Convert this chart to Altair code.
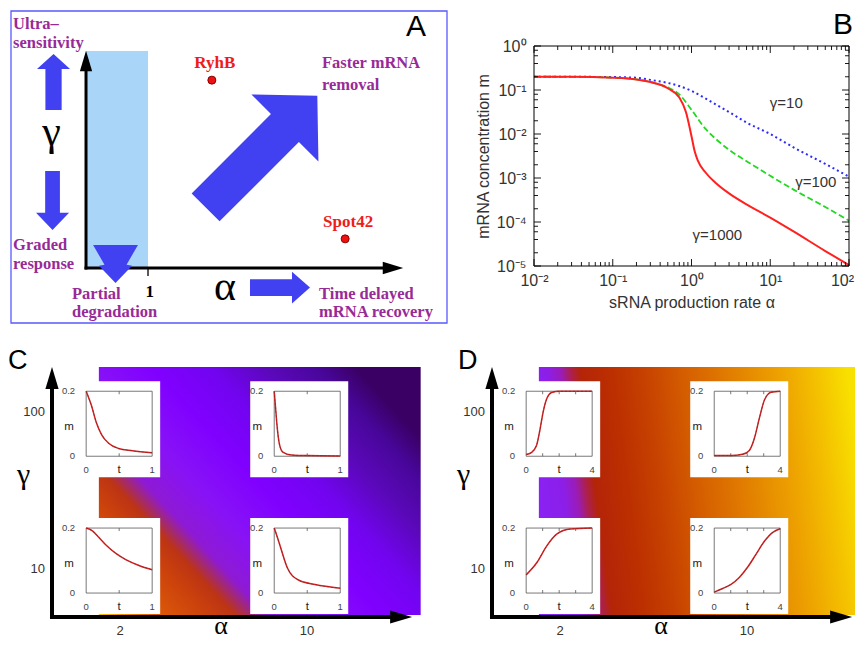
import math
import altair as alt
import pandas as pd

SANS = "Liberation Sans"
SERIF = "Liberation Serif"

# ======================= DATA =======================
# Panel A : schematic positions of the two sRNAs in the (alpha, gamma) plane
srna_names = ["RyhB", "Spot42"]
srna_alpha = [2.03, 4.18]
srna_gamma = [3.03, 0.47]

# Panel B : steady-state mRNA concentration vs sRNA production rate
alpha_g10 = [0.01, 0.03, 0.1, 0.2, 0.3, 0.5, 0.7, 1.0, 1.5, 2, 3, 5, 10, 20, 50, 100]
m_g10 = [0.2, 0.1995, 0.1968, 0.1905, 0.1698, 0.1445, 0.123, 0.0955, 0.0646, 0.0479,
         0.0316, 0.0182, 0.01, 0.0049, 0.00209, 0.00107]
alpha_g100 = [0.01, 0.03, 0.1, 0.2, 0.3, 0.5, 0.7, 1.0, 1.5, 2, 3, 5, 7, 10, 20, 50, 100]
m_g100 = [0.2, 0.1995, 0.1905, 0.1738, 0.1514, 0.1148, 0.0794, 0.0355, 0.0132, 0.00794,
          0.00437, 0.0024, 0.00166, 0.00112, 0.000537, 0.000219, 0.000107]
alpha_g1000 = [0.01, 0.03, 0.1, 0.2, 0.3, 0.5, 0.7, 0.85, 1.0, 1.1, 1.2, 1.5, 2, 3, 5, 10, 20, 50, 100]
m_g1000 = [0.2, 0.1995, 0.1905, 0.1738, 0.1514, 0.1096, 0.0676, 0.0316, 0.00891, 0.00398,
           0.00251, 0.00135, 0.000794, 0.000447, 0.000251, 0.000126, 6.03e-5, 2.19e-5, 1.05e-5]
curve_labels = ["γ=10", "γ=100", "γ=1000"]
curve_label_alpha = [16, 37.9, 2.13]
curve_label_m = [0.0502, 8.1e-4, 5.0e-5]

# Panels C, D : inset time courses m(t)
c_tl_t = [0, 0.08, 0.155, 0.235, 0.34, 0.49, 0.7, 1.0]
c_tl_m = [0.2, 0.156, 0.103, 0.066, 0.04, 0.024, 0.017, 0.0105]
c_tr_t = [0, 0.02, 0.04, 0.077, 0.13, 0.26, 0.5, 1.0]
c_tr_m = [0.2, 0.15, 0.1, 0.039, 0.013, 0.004, 0.002, 0.001]
c_bl_t = [0, 0.09, 0.19, 0.3, 0.45, 0.6, 0.8, 1.0]
c_bl_m = [0.2, 0.192, 0.172, 0.148, 0.122, 0.103, 0.085, 0.072]
c_br_t = [0, 0.05, 0.1, 0.2, 0.36, 0.62, 1.0]
c_br_m = [0.2, 0.17, 0.138, 0.077, 0.041, 0.026, 0.015]

d_tl_t = [0, 0.31, 0.62, 0.83, 1.04, 1.24, 1.55, 2.0, 4.0]
d_tl_m = [0.005, 0.011, 0.032, 0.08, 0.139, 0.176, 0.196, 0.2, 0.2]
d_tr_t = [0, 1.0, 1.72, 2.13, 2.44, 2.74, 3.05, 3.45, 4.0]
d_tr_m = [0.002, 0.002, 0.006, 0.018, 0.056, 0.118, 0.174, 0.197, 0.2]
d_bl_t = [0, 0.65, 1.26, 1.87, 2.68, 4.0]
d_bl_m = [0.056, 0.094, 0.146, 0.182, 0.197, 0.2]
d_br_t = [0, 0.51, 1.02, 1.52, 2.03, 2.54, 3.05, 3.55, 4.0]
d_br_m = [0.003, 0.014, 0.027, 0.048, 0.08, 0.12, 0.16, 0.187, 0.198]

alpha_ticks = [2, 10]
gamma_ticks = [10, 100]

# ======================= PANEL A =======================
A_W, A_VIEW_H, A_H, A_BOX_W = 523, 309, 312, 436
su = alt.Scale(domain=[-1.21, 5.823], range=[0, A_BOX_W], nice=False, zero=False)
sv = alt.Scale(domain=[-0.887, 4.145], range=[A_H, 0], nice=False, zero=False)


def AX(f):
    return alt.X(f, type="quantitative", scale=su, axis=None)


def AY(f):
    return alt.Y(f, type="quantitative", scale=sv, axis=None)


PURPLE = "#982a98"
BLUE = "#4141f2"
TRI = "M0,-1 L0.6,1 L-0.6,1 Z"

a_box = alt.Chart(pd.DataFrame({"u": [-1.21], "u2": [5.823], "v": [-0.887], "v2": [4.145]})).mark_rect(
    filled=False, stroke="#5a5aff", strokeWidth=1.3).encode(x=AX("u"), x2="u2", y=AY("v"), y2="v2")
a_shade = alt.Chart(pd.DataFrame({"u": [0.0], "u2": [1.0], "v": [0.0], "v2": [3.5]})).mark_rect(
    color="#a8d5f8").encode(x=AX("u"), x2="u2", y=AY("v"), y2="v2")
a_axes = alt.Chart(pd.DataFrame({"u": [0, 0], "u2": [4.952, 0], "v": [0, 0], "v2": [0, 3.339]})).mark_rule(
    color="black", strokeWidth=3, strokeCap="square").encode(x=AX("u"), x2="u2", y=AY("v"), y2="v2")
a_tick = alt.Chart(pd.DataFrame({"u": [1.0], "v": [0.0], "v2": [-0.13]})).mark_rule(
    color="black", strokeWidth=1.3).encode(x=AX("u"), y=AY("v"), y2="v2")
a_heads = alt.Chart(pd.DataFrame({"u": [4.952, 0.0], "v": [0.0, 3.339], "ang": [90, 0]})).mark_point(
    shape=TRI, size=420, filled=True, color="black", opacity=1, strokeWidth=0).encode(
    x=AX("u"), y=AY("v"), angle=alt.Angle("ang:Q", scale=None))

P_UP1 = "M0,-1 L0.59,-0.46 L0.29,-0.46 L0.29,1 L-0.29,1 L-0.29,-0.46 L-0.59,-0.46 Z"
P_UP2 = "M0,-1 L0.56,-0.42 L0.25,-0.42 L0.25,1 L-0.25,1 L-0.25,-0.42 L-0.56,-0.42 Z"
P_PART = "M-1.18,-1 L1.18,-1 L0.58,0.04 L0.87,0.1 L0,1 L-0.87,0.1 L-0.58,0.04 Z"
P_BIG = "M0,-1 L0.6,-0.42 L0.25,-0.42 L0.25,1 L-0.25,1 L-0.25,-0.42 L-0.6,-0.42 Z"
P_RIGHT = "M0,-1 L0.53,-0.4 L0.28,-0.4 L0.28,1 L-0.28,1 L-0.28,-0.4 L-0.53,-0.4 Z"
arrows = pd.DataFrame({
    "u": [-0.524, -0.54, 0.476, 2.83, 3.129],
    "v": [3.0, 1.089, 0.065, 1.879, -0.315],
    "size": [3136, 3481, 1444, 24964, 3600],
    "ang": [0, 180, 0, 45, 90],
    "path": [P_UP1, P_UP2, P_PART, P_BIG, P_RIGHT],
})
a_arrows = alt.Chart(arrows).mark_point(filled=True, color=BLUE, opacity=1, strokeWidth=0).encode(
    x=AX("u"), y=AY("v"),
    shape=alt.Shape("path:N", scale=None),
    size=alt.Size("size:Q", scale=None),
    angle=alt.Angle("ang:Q", scale=None))

srna = pd.DataFrame({"u": srna_alpha, "v": srna_gamma, "name": srna_names})
a_pts = alt.Chart(srna).mark_circle(size=64, color="#ee1111", opacity=1, stroke="#880000",
                                    strokeWidth=1).encode(x=AX("u"), y=AY("v"))
a_names = alt.Chart(srna).mark_text(font=SERIF, fontWeight="bold", fontSize=17, color="#ee1c1c",
                                    dx=3, dy=-17).encode(x=AX("u"), y=AY("v"), text="name:N")

purple_txt = ["Ultra–", "sensitivity", "Graded", "response", "Partial", "degradation",
              "Faster mRNA", "removal", "Time delayed", "mRNA recovery"]
purple_u = [-1.177, -1.177, -1.177, -1.177, -0.226, -0.226, 3.806, 3.806, 3.76, 3.76]
purple_v = [3.935, 3.63, 0.376, 0.07, -0.419, -0.71, 3.306, 2.952, -0.419, -0.71]
a_purple = alt.Chart(pd.DataFrame({"u": purple_u, "v": purple_v, "t": purple_txt})).mark_text(
    font=SERIF, fontWeight="bold", fontSize=16.5, color=PURPLE, align="left", baseline="middle").encode(
    x=AX("u"), y=AY("v"), text="t:N")
a_greek = alt.Chart(pd.DataFrame({"u": [-0.556, 2.242], "v": [1.98, -0.516], "t": ["γ", "α"]})).mark_text(
    font=SERIF, fontSize=42, color="black", align="center", baseline="alphabetic").encode(
    x=AX("u"), y=AY("v"), text="t:N")
a_one = alt.Chart(pd.DataFrame({"u": [1.03], "v": [-0.38], "t": ["1"]})).mark_text(
    font=SERIF, fontWeight="bold", fontSize=17, color="black", baseline="middle").encode(
    x=AX("u"), y=AY("v"), text="t:N")
a_letter = alt.Chart(pd.DataFrame({"u": [5.161], "v": [3.887], "t": ["A"]})).mark_text(
    font=SANS, fontSize=30, color="black", align="left", baseline="middle").encode(
    x=AX("u"), y=AY("v"), text="t:N")

panel_a = alt.layer(a_box, a_shade, a_axes, a_tick, a_heads, a_arrows, a_pts, a_names,
                    a_purple, a_greek, a_one, a_letter).properties(width=A_W, height=A_VIEW_H)

# ======================= PANEL B =======================
B_W, B_H, B_TOP = 315, 255, 35
bx = alt.Scale(type="log", domain=[0.01, 100], nice=False)
by = alt.Scale(type="log", domain=[1e-5, 1], range=[B_H, B_TOP], nice=False)

SUP = {"-": "⁻", "0": "⁰", "1": "¹", "2": "²", "3": "³", "4": "⁴", "5": "⁵"}


def pow_text(e):
    return "10" + "".join(SUP[c] for c in str(e))


def pow_expr(vals):
    parts = [f"datum.value < {v * 3:g} ? '{pow_text(round(math.log10(v)))}'" for v in vals[:-1]]
    return " : ".join(parts) + f" : '{pow_text(round(math.log10(vals[-1])))}'"


bx_major = [0.01, 0.1, 1, 10, 100]
by_major = [1e-5, 1e-4, 1e-3, 1e-2, 1e-1, 1]
bx_minor = [k * 10 ** e for e in range(-2, 2) for k in range(2, 10)]
by_minor = [k * 10 ** e for e in range(-5, 0) for k in (2, 4, 6, 8)]

x_axis_b = alt.Axis(values=bx_major, labelExpr=pow_expr(bx_major), ticks=False, domain=False, grid=False,
                    labelFont=SANS, labelFontSize=16, labelColor="#333", labelPadding=6,
                    labelFlush=False, labelOverlap=False,
                    labelOffset={"condition": {"test": "datum.value > 50", "value": -7}, "value": 0},
                    title="sRNA production rate α", titleFont=SANS, titleFontSize=16,
                    titleFontWeight="normal", titleColor="#333", titlePadding=6)
y_axis_b = alt.Axis(values=by_major, labelExpr=pow_expr(by_major), ticks=False, domain=False, grid=False,
                    labelFont=SANS, labelFontSize=16, labelColor="#333", labelPadding=8,
                    labelFlush=False, labelOverlap=False,
                    title="mRNA concentration m", titleFont=SANS, titleFontSize=16,
                    titleFontWeight="normal", titleColor="#333", titleX=-51, titleY=145,
                    titleAngle=270, titleAlign="center", titleBaseline="middle")


def BXE(f):
    return alt.X(f, type="quantitative", scale=bx, axis=x_axis_b)


def BYE(f):
    return alt.Y(f, type="quantitative", scale=by, axis=y_axis_b)


def bline(alpha, m, color, width, dash=None):
    kw = dict(color=color, strokeWidth=width, interpolate="monotone")
    if dash:
        kw["strokeDash"] = dash
    return alt.Chart(pd.DataFrame({"alpha": alpha, "m": m})).mark_line(**kw).encode(
        x=BXE("alpha"), y=BYE("m"))


one = pd.DataFrame({"k": [0]})
b_layers = [bline(alpha_g10, m_g10, "#2b2bff", 2, [2, 3]),
            bline(alpha_g100, m_g100, "#22d822", 1.8, [6, 3]),
            bline(alpha_g1000, m_g1000, "#ff2020", 2)]
b_layers.append(alt.Chart(one).mark_rect(filled=False, stroke="black", strokeWidth=1).encode(
    x=alt.value(0), x2=alt.value(B_W), y=alt.value(B_TOP), y2=alt.value(B_H)))
for vals, L in ((bx_major, 7), (bx_minor, 4)):
    base = alt.Chart(pd.DataFrame({"a": vals})).mark_rule(color="black", strokeWidth=0.9)
    b_layers.append(base.encode(x=BXE("a"), y=alt.value(B_H), y2=alt.value(B_H - L)))
    b_layers.append(base.encode(x=BXE("a"), y=alt.value(B_TOP), y2=alt.value(B_TOP + L)))
for vals, L in ((by_major, 7), (by_minor, 4)):
    base = alt.Chart(pd.DataFrame({"a": vals})).mark_rule(color="black", strokeWidth=0.9)
    b_layers.append(base.encode(y=BYE("a"), x=alt.value(0), x2=alt.value(L)))
    b_layers.append(base.encode(y=BYE("a"), x=alt.value(B_W), x2=alt.value(B_W - L)))
b_layers.append(alt.Chart(pd.DataFrame({"alpha": curve_label_alpha, "m": curve_label_m, "lab": curve_labels}))
                .mark_text(font=SANS, fontSize=15, color="#333", baseline="middle")
                .encode(x=BXE("alpha"), y=BYE("m"), text="lab:N"))
b_layers.append(alt.Chart(pd.DataFrame({"t": ["B"]})).mark_text(
    font=SANS, fontSize=30, color="black", align="left", baseline="middle").encode(
    x=alt.value(299), y=alt.value(14), text="t:N"))
panel_b = alt.layer(*b_layers).properties(width=B_W, height=B_H)

# ======================= PANELS C, D =======================
LX0, LX1 = 0.0468, 1.4412        # log10(alpha) range of the panel
LY0, LY1 = 0.694, 2.331          # log10(gamma) range of the panel
H2 = 302                          # view height
Y_AX, Y_TOP = 297, 40             # pixel rows of gamma = LY0 and LY1
PXX = 267.5                       # pixels per decade of alpha
PXY = (Y_AX - Y_TOP) / (LY1 - LY0)  # pixels per decade of gamma
HX0, HX1, HY0, HY1 = 0.222, 1.425, 0.7065, 2.287
AXH = 1.352
AYH = HY1 - 11 / PXY
CENTERS = [(0.268, 1.89), (0.971, 1.89), (0.268, 1.0185), (0.971, 1.0185)]

C_STOPS = [(0.0, "#f4c400"), (0.05, "#ec8c00"), (0.12, "#dc5a08"), (0.22, "#cc420c"),
           (0.28, "#bc3414"), (0.31, "#a42a6a"), (0.345, "#8e1ad4"), (0.45, "#8812f6"),
           (0.58, "#8000ff"), (0.70, "#7204f0"), (0.82, "#5a08b8"), (0.92, "#48069a"),
           (1.0, "#3a0064")]
D_STOPS = [(0.0, "#8a22f4"), (0.08, "#8c1ee8"), (0.12, "#9a1cb8"), (0.15, "#ac2050"),
           (0.18, "#b42408"), (0.28, "#bc3000"), (0.39, "#c84400"), (0.49, "#d45c00"),
           (0.60, "#de7400"), (0.70, "#e68c00"), (0.80, "#eea400"), (0.90, "#f4c000"),
           (1.0, "#f8e000")]


def heat_panel(letter, stops, gvec, curves, tmax, tick_ts, tlab, xr, width, letter_x):
    xs = alt.Scale(domain=[LX0, LX1], range=xr, nice=False, zero=False)
    ys = alt.Scale(domain=[LY0, LY1], range=[Y_AX, Y_TOP], nice=False, zero=False)

    def X(f):
        return alt.X(f, type="quantitative", scale=xs, axis=None)

    def Y(f):
        return alt.Y(f, type="quantitative", scale=ys, axis=None)

    ax0 = xr[0]
    grad = alt.LinearGradient(gradient="linear",
                              stops=[alt.GradientStop(color=c, offset=o) for o, c in stops],
                              x1=gvec[0], y1=gvec[1], x2=gvec[2], y2=gvec[3])
    layers = [alt.Chart(pd.DataFrame({"x": [HX0], "x2": [HX1], "y": [HY0], "y2": [HY1]}))
              .mark_rect(color=grad, clip=True).encode(x=X("x"), x2="x2", y=Y("y"), y2="y2")]
    layers.append(alt.Chart(pd.DataFrame({"x": [LX0, LX0], "x2": [AXH, LX0], "y": [LY0, LY0], "y2": [LY0, AYH]}))
                  .mark_rule(color="black", strokeWidth=4, strokeCap="square")
                  .encode(x=X("x"), x2="x2", y=Y("y"), y2="y2"))
    layers.append(alt.Chart(pd.DataFrame({"x": [AXH, LX0], "y": [LY0, AYH], "ang": [90, 0]}))
                  .mark_point(shape=TRI, size=484, filled=True, color="black", opacity=1, strokeWidth=0)
                  .encode(x=X("x"), y=Y("y"), angle=alt.Angle("ang:Q", scale=None)))

    boxes, frames, lines, ticks, num_r, num_c, let_c = [], [], [], [], [], [], []
    for k, (cx, cy) in enumerate(CENTERS):
        bx0, bx1 = cx - 49 / PXX, cx + 49 / PXX
        by0, by1 = cy - 48 / PXY, cy + 48 / PXY
        fx0 = bx0 + 24 / PXX
        fx1 = fx0 + 66 / PXX
        fy1 = by1 - 10 / PXY
        fy0 = fy1 - 65 / PXY
        boxes.append({"x": bx0, "x2": bx1, "y": by0, "y2": by1})
        frames.append({"x": fx0, "x2": fx1, "y": fy0, "y2": fy1})
        ts, ms = curves[k]
        for t, m in zip(ts, ms):
            lines.append({"k": k, "x": fx0 + t / tmax * (fx1 - fx0), "y": fy0 + m / 0.2 * (fy1 - fy0), "o": t})
        for tt in tick_ts:
            xx = fx0 + tt / tmax * (fx1 - fx0)
            ticks.append({"x": xx, "y": fy0, "y2": fy0 + 3 / PXY})
            ticks.append({"x": xx, "y": fy1, "y2": fy1 - 3 / PXY})
        num_r.append({"x": fx0 - 11 / PXX, "y": fy1, "t": "0.2"})
        num_r.append({"x": fx0 - 11 / PXX, "y": fy0, "t": "0"})
        num_c.append({"x": fx0, "y": fy0 - 14 / PXY, "t": "0"})
        num_c.append({"x": fx1, "y": fy0 - 14 / PXY, "t": tlab})
        let_c.append({"x": fx0 - 17 / PXX, "y": fy1 - 0.55 * (fy1 - fy0), "t": "m"})
        let_c.append({"x": (fx0 + fx1) / 2, "y": fy0 - 14 / PXY, "t": "t"})

    layers.append(alt.Chart(pd.DataFrame(boxes)).mark_rect(color="white")
                  .encode(x=X("x"), x2="x2", y=Y("y"), y2="y2"))
    layers.append(alt.Chart(pd.DataFrame(frames)).mark_rect(filled=False, stroke="#555", strokeWidth=0.8)
                  .encode(x=X("x"), x2="x2", y=Y("y"), y2="y2"))
    layers.append(alt.Chart(pd.DataFrame(ticks)).mark_rule(color="#555", strokeWidth=0.8)
                  .encode(x=X("x"), y=Y("y"), y2="y2"))
    ldf = pd.DataFrame(lines)
    layers.append(alt.Chart(ldf).mark_line(color="#d42020", strokeWidth=1.5, interpolate="monotone")
                  .encode(x=X("x"), y=Y("y"), detail="k:N", order="o:Q"))
    layers.append(alt.Chart(ldf).mark_line(color="#333", strokeWidth=0.6, strokeDash=[2, 2], opacity=0.7,
                                           interpolate="monotone")
                  .encode(x=X("x"), y=Y("y"), detail="k:N", order="o:Q"))
    layers.append(alt.Chart(pd.DataFrame(num_r)).mark_text(font=SANS, fontSize=9.5, color="#444",
                                                           align="right", baseline="middle")
                  .encode(x=X("x"), y=Y("y"), text="t:N"))
    layers.append(alt.Chart(pd.DataFrame(num_c)).mark_text(font=SANS, fontSize=9.5, color="#444",
                                                           align="center", baseline="middle")
                  .encode(x=X("x"), y=Y("y"), text="t:N"))
    layers.append(alt.Chart(pd.DataFrame(let_c)).mark_text(font=SANS, fontSize=11.5, color="#222",
                                                           align="center", baseline="middle")
                  .encode(x=X("x"), y=Y("y"), text="t:N"))
    # axis tick labels
    layers.append(alt.Chart(pd.DataFrame({"x": [math.log10(a) for a in alpha_ticks],
                                          "t": [str(a) for a in alpha_ticks]}))
                  .mark_text(font=SANS, fontSize=13, color="#333", baseline="middle")
                  .encode(x=X("x"), y=alt.value(Y_AX + 14), text="t:N"))
    layers.append(alt.Chart(pd.DataFrame({"x": [LX0] * len(gamma_ticks),
                                          "y": [math.log10(g) for g in gamma_ticks],
                                          "t": [str(g) for g in gamma_ticks]}))
                  .mark_text(font=SANS, fontSize=13, color="#333", align="right", baseline="middle", dx=-7)
                  .encode(x=X("x"), y=Y("y"), text="t:N"))
    layers.append(alt.Chart(pd.DataFrame({"t": ["γ"]})).mark_text(
        font=SERIF, fontSize=30, color="black", align="center", baseline="alphabetic")
        .encode(x=alt.value(ax0 - 28.5), y=alt.value(164), text="t:N"))
    layers.append(alt.Chart(pd.DataFrame({"t": ["α"]})).mark_text(
        font=SERIF, fontSize=26, color="black", align="center", baseline="alphabetic")
        .encode(x=alt.value(ax0 + 169), y=alt.value(Y_AX + 17), text="t:N"))
    layers.append(alt.Chart(pd.DataFrame({"t": [letter]})).mark_text(
        font=SANS, fontSize=27, color="black", align="left", baseline="middle")
        .encode(x=alt.value(letter_x), y=alt.value(41), text="t:N"))
    return alt.layer(*layers).properties(width=width, height=H2)


panel_c = heat_panel("C", C_STOPS, (0, 1, 1, 0.284),
                     [(c_tl_t, c_tl_m), (c_tr_t, c_tr_m), (c_bl_t, c_bl_m), (c_br_t, c_br_m)],
                     1.0, [0.5], "1", [41, 414], 523, -3)
panel_d = heat_panel("D", D_STOPS, (0, 0.55, 1, 0.45),
                     [(d_tl_t, d_tl_m), (d_tr_t, d_tr_m), (d_bl_t, d_bl_m), (d_br_t, d_br_m)],
                     4.0, [1, 2, 3], "4", [-42, 331], 321, -76)

chart = alt.concat(panel_a, panel_b, panel_c, panel_d, columns=2, spacing=0,
                   bounds="flush", align="all").properties(
    padding={"left": 0, "top": 2, "right": 0, "bottom": 0}
).configure_view(strokeWidth=0)

chart.save("out.html", embed_options={"renderer": "svg", "actions": False})
